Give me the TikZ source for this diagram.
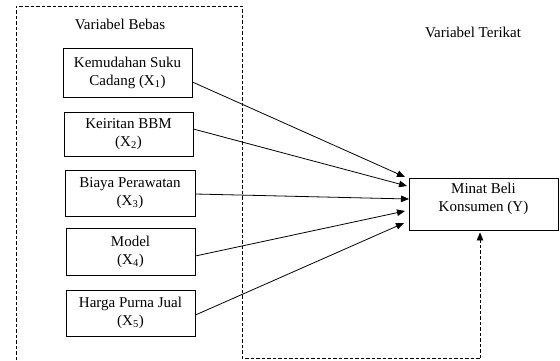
\documentclass[tikz,border=0pt]{standalone}
\usepackage{fontspec}
\setmainfont{Liberation Serif}
\usetikzlibrary{arrows.meta}
\begin{document}
\begin{tikzpicture}[x=1pt,y=-1pt,
  every node/.style={font=\fontsize{15}{18}\selectfont},
  varbox/.style={draw,line width=0.8pt,minimum width=129pt,align=center,inner sep=0pt},
  link/.style={line width=0.8pt,-{Triangle[length=8pt,width=6.5pt]}},
  dashline/.style={line width=0.8pt,dash pattern=on 3.5pt off 2pt}]
\useasboundingbox (0,0) rectangle (560,360);
% left dashed frame
\coordinate (bl) at (16,360);
\coordinate (tl) at (16,6);
\coordinate (tr) at (242,6);
\coordinate (br) at (242,358);
\coordinate (fb) at (480,358);
\draw[dashline] (bl) -- (tl) -- (tr) -- (br) -- (fb);
\node (lb) at (120,24) {Variabel Bebas};
\node (lt) at (473,32) {Variabel Terikat};
% boxes
\node[varbox,minimum height=49pt] (X1) at (127.5,72.5) {Kemudahan Suku\\Cadang (X\textsubscript{1})};
\node[varbox,minimum height=44pt] (X2) at (128.5,134) {Keiritan BBM\\(X\textsubscript{2})};
\node[varbox,minimum width=130pt,minimum height=46pt] (X3) at (130,193) {Biaya Perawatan\\(X\textsubscript{3})};
\node[varbox,minimum height=47pt] (X4) at (130.5,251.5) {Model\\(X\textsubscript{4})};
\node[varbox,minimum height=46pt] (X5) at (130.5,313) {Harga Purna Jual\\(X\textsubscript{5})};
\node[draw,line width=0.8pt,minimum width=149pt,minimum height=52pt,inner sep=0pt] (Y) at (483.5,204) {};
\node[anchor=north,align=center,inner sep=0pt] (Ylab) at ([yshift=-5pt]Y.north) {Minat Beli\\Konsumen (Y)};
% arrow tips
\coordinate (t1) at (405,177);
\coordinate (t2) at (407,186);
\coordinate (t3) at (409,199);
\coordinate (t4) at (405,211);
\coordinate (t5) at (404,223);
\draw[link] ([yshift=-9.5pt]X1.east) -- (t1);
\draw[link] ([yshift=5pt]X2.east) -- (t2);
\draw[link] ([yshift=-1pt]X3.east) -- (t3);
\draw[link] ([yshift=-4.5pt]X4.east) -- (t4);
\draw[link] ([yshift=-2pt]X5.east) -- (t5);
% feedback dashed arrow
\draw[dashline,-{Triangle[length=8pt,width=6.5pt]}] (fb) -- ([yshift=-2pt]fb |- Y.south);
\end{tikzpicture}
\end{document}
